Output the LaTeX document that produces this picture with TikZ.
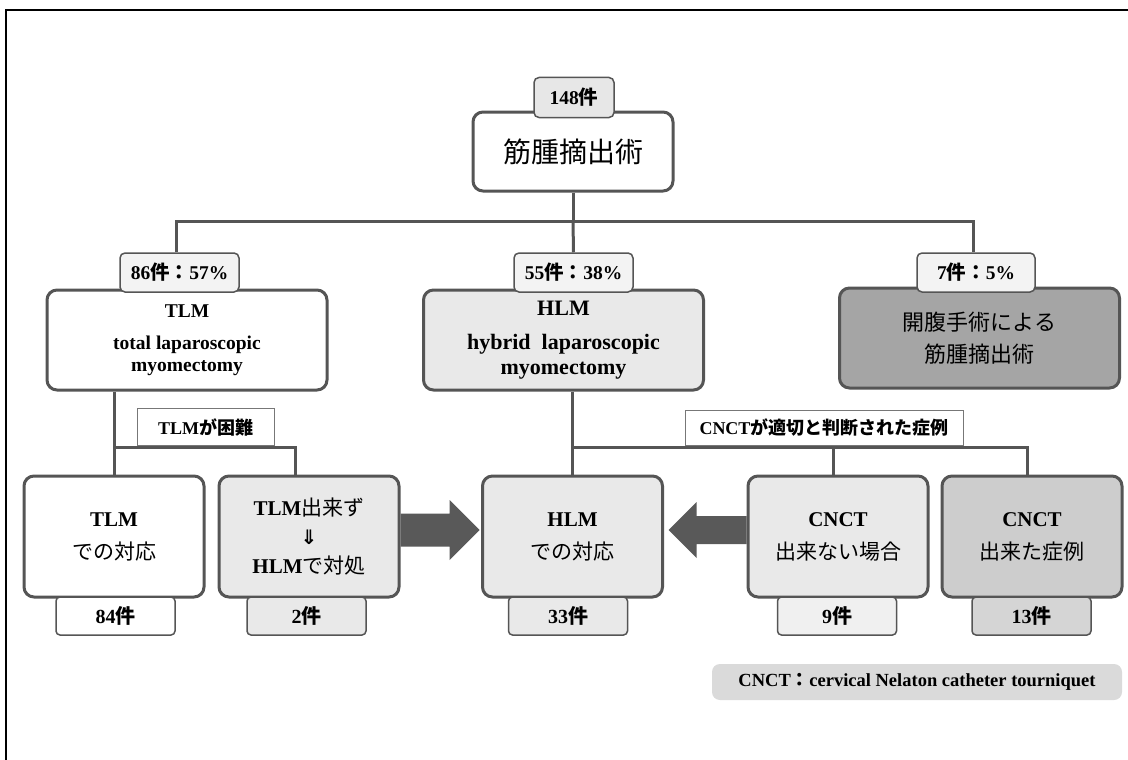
\documentclass[tikz,border=0pt]{standalone}
\usepackage{fontspec}
\setmainfont{Liberation Serif}
\newfontfamily\jp{Noto Sans CJK JP}
\newfontfamily\dvsans{DejaVu Sans}
\usetikzlibrary{backgrounds}
\pgfdeclarelayer{bottom}
\pgfsetlayers{bottom,background,main}
\newcommand\J[1]{{\jp #1}}
\definecolor{linec}{HTML}{555555}
\definecolor{arrowc}{HTML}{595959}
\definecolor{lightf}{HTML}{E9E9E9}
\definecolor{labf}{HTML}{F3F3F3}
\definecolor{medf}{HTML}{CDCDCD}
\definecolor{medl}{HTML}{D5D5D5}
\definecolor{darkf}{HTML}{A5A5A5}
\definecolor{legf}{HTML}{DADADA}
\tikzset{
  conn/.style={draw=linec, line width=3pt},
  bigbox/.style={draw=linec, line width=3pt, rounded corners=10pt, align=center, inner sep=2pt},
  midbox/.style={bigbox, minimum width=280pt, minimum height=100pt},
  lowbox/.style={bigbox, minimum width=180pt, minimum height=121pt,
    font=\fontsize{21pt}{33pt}\selectfont\bfseries},
  lab/.style={draw=linec, line width=1.5pt, rounded corners=5pt, fill=labf,
    minimum width=119pt, minimum height=39pt, inner sep=1pt,
    font=\fontsize{19.5pt}{22pt}\selectfont\bfseries},
  cnt/.style={draw=linec, line width=1.5pt, rounded corners=4pt,
    minimum width=119pt, minimum height=38pt, inner sep=1pt,
    font=\fontsize{20pt}{23pt}\selectfont\bfseries},
  cond/.style={draw=linec!80, line width=1pt, fill=white, inner sep=1pt,
    font=\fontsize{18pt}{21pt}\selectfont\bfseries},
}
\begin{document}
\begin{tikzpicture}[x=1pt,y=-1pt]
\useasboundingbox (0,0) rectangle (1128,760);
\begin{pgfonlayer}{bottom}
\fill[white] (0,0) rectangle (1128,760);
\end{pgfonlayer}
\draw[line width=2.5pt, black] (6,760) -- (6,10) -- (1128,10);

% top
\node[bigbox, fill=white, minimum width=200pt, minimum height=79pt,
  font=\fontsize{28pt}{32pt}\selectfont] (main) at (573,151.5) {\J{筋腫摘出術}};
\node[lab, fill=labf!90!gray, minimum width=80pt, minimum height=40pt] (n148) at (574,97.5) {148\J{件}};

% second row
\node[midbox, fill=white, font=\fontsize{19.5pt}{22pt}\selectfont\bfseries] (tlm) at (187,340)
  {TLM\\[10pt]total laparoscopic\\myomectomy};
\node[midbox, fill=lightf, font=\fontsize{22pt}{25pt}\selectfont\bfseries] (hlm) at (563.5,340)
  {HLM\\[9pt]hybrid\ \ laparoscopic\\myomectomy};
\node[midbox, fill=darkf, font=\fontsize{22pt}{32pt}\selectfont] (open) at (979.5,338)
  {\J{開腹手術による}\\\J{筋腫摘出術}};
\node[lab] (l86) at (179.5,272.5) {86\J{件：}57\%};
\node[lab] (l55) at (573.5,272.5) {55\J{件：}38\%};
\node[lab, minimum width=118pt] (l7) at (976,272.5) {7\J{件：}5\%};

% condition labels
\node[cond, minimum width=137pt, minimum height=37pt] (hard) at (205.5,427) {TLM\J{が困難}};
\node[cond, minimum width=278pt, minimum height=35pt] (cnctlab) at (824,428) {CNCT\J{が適切と判断された症例}};

% bottom row
\node[lowbox, fill=white] (b1) at (114,536.5) {TLM\\\J{\mdseries での対応}};
\node[lowbox, fill=lightf, font=\fontsize{21pt}{29pt}\selectfont\bfseries] (b2) at (309,536.5)
  {TLM\J{\mdseries 出来ず}\\{\dvsans\bfseries\fontsize{20pt}{20pt}\selectfont ⇓}\\HLM\J{\mdseries で対処}};
\node[lowbox, fill=lightf] (b3) at (572.5,536.5) {HLM\\\J{\mdseries での対応}};
\node[lowbox, fill=lightf] (b4) at (838,536.5) {CNCT\\\J{\mdseries 出来ない場合}};
\node[lowbox, fill=medf] (b5) at (1032,536.5) {CNCT\\\J{\mdseries 出来た症例}};

\node[cnt, fill=white] (c1) at (115.5,616) {84\J{件}};
\node[cnt, fill=lightf] (c2) at (306.5,616) {2\J{件}};
\node[cnt, fill=lightf] (c3) at (568,616) {33\J{件}};
\node[cnt, fill=lightf!70!white] (c4) at (837,616) {9\J{件}};
\node[cnt, fill=medl] (c5) at (1031.5,616) {13\J{件}};

% legend
\node[fill=legf, rounded corners=8pt, minimum width=410pt, minimum height=36pt,
  font=\fontsize{18.5pt}{22pt}\selectfont\bfseries] (legend) at (917,682)
  {CNCT\J{：}cervical Nelaton catheter tourniquet};

% arrows
\fill[arrowc] ([yshift=6.5pt]b2.east) ++(0,-16.5) -- ++(49,0) -- ++(0,-13.5) -- ++(30,30)
  -- ++(-30,30) -- ++(0,-13.5) -- ++(-49,0) -- cycle;
\fill[arrowc] ([yshift=6.5pt]b4.west) ++(0,-14) -- ++(-50,0) -- ++(0,-14) -- ++(-28,28)
  -- ++(28,28) -- ++(0,-14) -- ++(50,0) -- cycle;

% connectors
\coordinate (jy) at (0,221);
\coordinate (ky) at (0,447);
\begin{pgfonlayer}{background}
\draw[conn] (main.south) -- (main.south |- jy);
\draw[conn] ([xshift=-3.5pt]l86.north) |- (main.south |- jy) -| ([xshift=-3pt]l7.north);
\draw[conn] (main.south |- jy) -- (l55.north);
\draw[conn] (tlm.south -| b1.north) -- (b1.north);
\draw[conn] (b1.north |- ky) -| ([xshift=-14pt]b2.north);
\draw[conn] (hlm.south -| b3.north) -- (b3.north);
\draw[conn] (b3.north |- ky) -| ([xshift=-5pt]b4.north);
\draw[conn] ([xshift=-5pt]b4.north |- ky) -| ([xshift=-5pt]b5.north);
\end{pgfonlayer}
\end{tikzpicture}
\end{document}
